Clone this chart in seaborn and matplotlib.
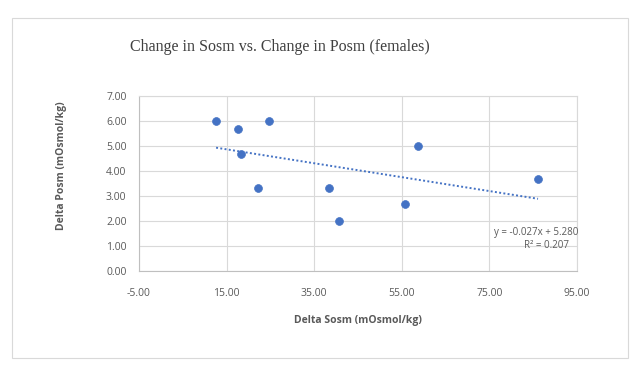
#!/usr/bin/env python3
# Change in Sosm vs. Change in Posm (females) - scatter with linear trendline

import numpy as np
import pandas as pd
import matplotlib
matplotlib.use('Agg')
import matplotlib.pyplot as plt
import seaborn as sns
from matplotlib.patches import Rectangle

# Data
delta_sosm = [12.6, 17.6, 18.3, 24.6, 22.2, 38.3, 40.6, 55.7, 58.7, 86.1]
delta_posm = [6.00, 5.67, 4.67, 6.00, 3.33, 3.33, 2.00, 2.67, 5.00, 3.67]
x_ticks = [-5, 15, 35, 55, 75, 95]
y_ticks = [0, 1, 2, 3, 4, 5, 6, 7]

df = pd.DataFrame({'sosm': delta_sosm, 'posm': delta_posm})

sns.set_style('white')
plt.rcParams['font.family'] = ['Open Sans', 'DejaVu Sans']

blue = '#4472C4'
grid_col = '#d9d9d9'
text_col = '#595959'

fig = plt.figure(figsize=(6.42, 3.8), dpi=100)
fig.patches.append(Rectangle((12 / 642, 1 - 358 / 380), 616 / 642, 340 / 380,
                             transform=fig.transFigure, fill=False,
                             edgecolor='#d9d9d9', linewidth=0.8))

ax = fig.add_axes([139 / 642, 1 - 271 / 380, 438 / 642, 175.3 / 380])

sns.scatterplot(data=df, x='sosm', y='posm', ax=ax, color=blue, s=32,
                edgecolor=blue, linewidth=0.5, zorder=3)
sns.regplot(data=df, x='sosm', y='posm', ax=ax, scatter=False, ci=None,
            color=blue, line_kws={'linestyle': (0, (1, 1.2)), 'linewidth': 1.4})

ax.set_xlim(-5, 95)
ax.set_ylim(0, 7)
ax.set_xticks(x_ticks)
ax.set_yticks(y_ticks)
ax.set_xticklabels([f'{v:.2f}' for v in x_ticks])
ax.set_yticklabels([f'{v:.2f}' for v in y_ticks])
ax.tick_params(axis='both', length=0, labelsize=7.5, colors=text_col, pad=9)
ax.tick_params(axis='x', pad=12)
ax.grid(True, color=grid_col, linewidth=0.8)
ax.set_axisbelow(True)
for sp in ax.spines.values():
    sp.set_color(grid_col)
    sp.set_linewidth(0.8)
ax.spines['bottom'].set_color('#bfbfbf')
ax.spines['left'].set_color('#bfbfbf')

ax.set_xlabel('Delta Sosm (mOsmol/kg)', fontsize=7.5, color=text_col,
              fontweight='bold', labelpad=12)
ax.set_ylabel('Delta Posm (mOsmol/kg)', fontsize=7.5, color=text_col,
              fontweight='bold')
ax.yaxis.set_label_coords(-0.165, 0.6)

fig.text(280 / 642, 1 - 47 / 380, 'Change in Sosm vs. Change in Posm (females)',
         ha='center', va='center', fontsize=11.5, color='#404040',
         family='Liberation Serif')

fig.text(578 / 642, 1 - 232 / 380, 'y = -0.027x + 5.280', fontsize=7,
         color=text_col, ha='right', va='center')
fig.text(547 / 642, 1 - 246 / 380, 'R² = 0.207', fontsize=7,
         color=text_col, ha='center', va='center')

plt.savefig('out.png', dpi=100)
